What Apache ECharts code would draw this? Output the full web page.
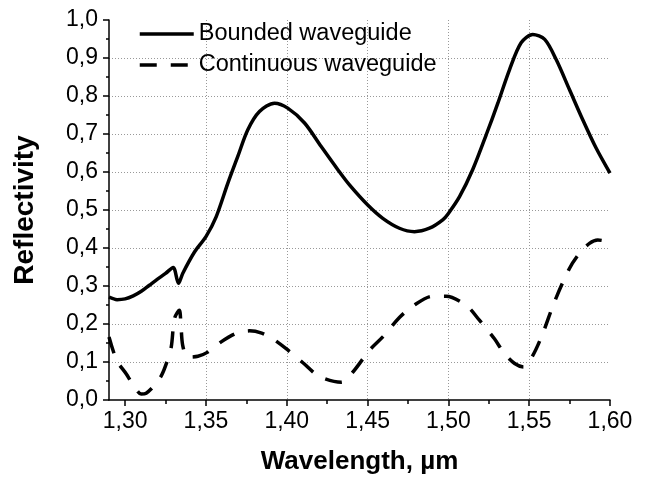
<!DOCTYPE html>
<html>
<head>
<meta charset="utf-8">
<script src="https://cdn.jsdelivr.net/npm/echarts@6/dist/echarts.min.js"></script>
<style>
  html, body { margin: 0; padding: 0; background: #fff; }
  #chart { width: 647px; height: 481px; }
</style>
</head>
<body>
<div id="chart"></div>
<script>
// wavelength (um), reflectivity
const bounded = [
  [1.290, 0.271], [1.295, 0.264], [1.300, 0.266], [1.305, 0.274], [1.310, 0.286],
  [1.315, 0.302], [1.320, 0.318], [1.325, 0.333], [1.3297, 0.349], [1.3330, 0.307],
  [1.3356, 0.333], [1.343, 0.390], [1.350, 0.430], [1.3563, 0.482], [1.3635, 0.570],
  [1.3697, 0.641], [1.3759, 0.711], [1.3831, 0.759], [1.3924, 0.781], [1.4006, 0.768],
  [1.411, 0.729], [1.4213, 0.667], [1.4316, 0.606], [1.4388, 0.566], [1.4501, 0.513],
  [1.4594, 0.478], [1.4697, 0.452], [1.479, 0.443], [1.4883, 0.452], [1.4965, 0.474],
  [1.500, 0.491], [1.5069, 0.535], [1.515, 0.606], [1.5234, 0.698], [1.5306, 0.781],
  [1.5378, 0.869], [1.545, 0.940], [1.5522, 0.962], [1.5596, 0.949], [1.5667, 0.896],
  [1.5749, 0.817], [1.5832, 0.737], [1.5914, 0.663], [1.600, 0.597]
]

const continuous = [
  [1.290, 0.166], [1.2948, 0.104], [1.3006, 0.069], [1.3050, 0.040], [1.3099, 0.016],
  [1.3130, 0.018], [1.318, 0.038], [1.3225, 0.065], [1.3254, 0.095], [1.3285, 0.139],
  [1.3305, 0.214], [1.3335, 0.236], [1.3345, 0.200], [1.3356, 0.144], [1.3387, 0.113],
  [1.345, 0.115], [1.3511, 0.126], [1.3594, 0.153], [1.3685, 0.175], [1.3769, 0.182],
  [1.3845, 0.176], [1.3913, 0.161], [1.3996, 0.135], [1.410, 0.098], [1.4202, 0.062],
  [1.4337, 0.047], [1.4408, 0.073], [1.4512, 0.131], [1.4594, 0.166], [1.4697, 0.217],
  [1.478, 0.247], [1.4903, 0.273], [1.4986, 0.273], [1.511, 0.249], [1.5192, 0.210],
  [1.5285, 0.161], [1.5347, 0.122], [1.5410, 0.096], [1.5465, 0.087], [1.5522, 0.117],
  [1.5584, 0.175], [1.5656, 0.258], [1.5749, 0.346], [1.5811, 0.386], [1.5873, 0.412],
  [1.5924, 0.421], [1.600, 0.416]
]

const xMajorTicks = [1.30, 1.35, 1.40, 1.45, 1.50, 1.55, 1.60]
const xMinorTicks = [1.325, 1.375, 1.425, 1.475, 1.525, 1.575]

const font = 'Liberation Sans, Arial, sans-serif'
const grid = { color: '#999', width: 1, type: [1, 2] }
const dash = [17, 14]

const chart = echarts.init(document.getElementById('chart'), null, { renderer: 'canvas' })

chart.setOption({
  animation: false,
  backgroundColor: '#fff',
  grid: { left: 109, right: 37, top: 20, bottom: 81 },
  legend: {
    orient: 'vertical',
    left: 138,
    top: 22,
    padding: 0,
    itemWidth: 54,
    itemHeight: 14,
    itemGap: 7,
    itemStyle: { opacity: 0, borderWidth: 0 },
    textStyle: { fontFamily: font, fontSize: 23.5, color: '#000' },
    data: [
      { name: 'Bounded waveguide', lineStyle: { width: 3.5, color: '#000', type: 'solid' } },
      { name: 'Continuous waveguide', lineStyle: { width: 3.5, color: '#000', type: dash } }
    ]
  },
  xAxis: [
    {
      type: 'value',
      min: 1.29,
      max: 1.60,
      name: 'Wavelength, \u00b5m',
      nameLocation: 'middle',
      nameGap: 49,
      nameMoveOverlap: false,
      nameTextStyle: { fontFamily: font, fontSize: 26, fontWeight: 'bold', color: '#000' },
      axisLine: { lineStyle: { color: '#000', width: 1.5 } },
      axisTick: { length: 6, lineStyle: { color: '#000', width: 1.5 }, customValues: xMajorTicks },
      axisLabel: {
        fontFamily: font, fontSize: 23, color: '#000', margin: 10,
        customValues: xMajorTicks,
        formatter: v => v.toFixed(2).replace('.', ',')
      },
      splitLine: { show: true, showMinLine: false, showMaxLine: false, lineStyle: grid }
    },
    {
      type: 'value',
      min: 1.29,
      max: 1.60,
      position: 'bottom',
      axisLine: { show: false },
      axisTick: { length: 4, lineStyle: { color: '#000', width: 1.5 }, customValues: xMinorTicks },
      axisLabel: { show: false },
      splitLine: { show: false }
    }
  ],
  yAxis: {
    type: 'value',
    min: 0,
    max: 1,
    interval: 0.1,
    name: 'Reflectivity',
    nameLocation: 'middle',
    nameGap: 70,
    nameTextStyle: { fontFamily: font, fontSize: 28, fontWeight: 'bold', color: '#000' },
    axisLine: { show: true, lineStyle: { color: '#000', width: 1.5 } },
    axisTick: { show: true, length: 6, lineStyle: { color: '#000', width: 1.5 } },
    minorTick: { show: true, splitNumber: 2, length: 3, lineStyle: { color: '#000', width: 1.5 } },
    axisLabel: {
      fontFamily: font, fontSize: 23, color: '#000', margin: 11,
      formatter: v => v.toFixed(1).replace('.', ',')
    },
    splitLine: { show: true, showMinLine: false, showMaxLine: false, lineStyle: grid }
  },
  series: [
    {
      name: 'Bounded waveguide',
      type: 'line',
      data: bounded,
      smooth: 0.3,
      symbol: 'none',
      itemStyle: { color: '#000' },
      lineStyle: { color: '#000', width: 3.5 }
    },
    {
      name: 'Continuous waveguide',
      type: 'line',
      data: continuous,
      smooth: 0.3,
      symbol: 'none',
      itemStyle: { color: '#000' },
      lineStyle: { color: '#000', width: 3.5, type: dash }
    }
  ]
})
</script>
</body>
</html>
